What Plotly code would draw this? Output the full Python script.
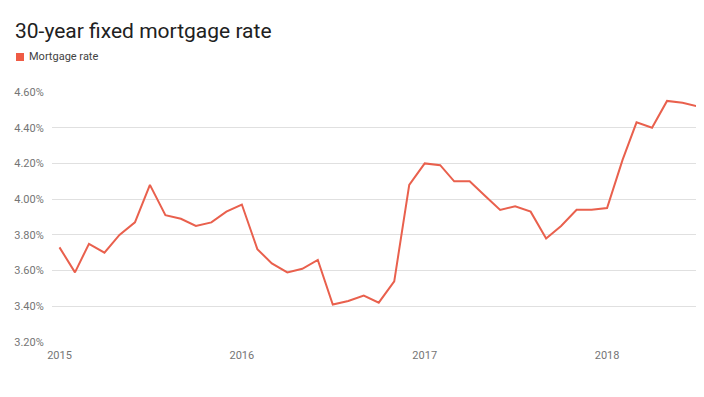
import plotly.graph_objects as go
import pandas as pd

dates = pd.date_range("2015-01-01", periods=43, freq="MS")
rates = [3.73, 3.59, 3.75, 3.70, 3.80, 3.87, 4.08, 3.91, 3.89, 3.85, 3.87, 3.93,
         3.97, 3.72, 3.64, 3.59, 3.61, 3.66, 3.41, 3.43, 3.46, 3.42, 3.54, 4.08,
         4.20, 4.19, 4.10, 4.10, 4.02, 3.94, 3.96, 3.93, 3.78, 3.85, 3.94, 3.94,
         3.95, 4.22, 4.43, 4.40, 4.55, 4.54, 4.52]
y_ticks = [3.2, 3.4, 3.6, 3.8, 4.0, 4.2, 4.4, 4.6]
y_labels = ["3.20%", "3.40%", "3.60%", "3.80%", "4.00%", "4.20%", "4.40%", "4.60%"]
x_ticks = ["2015-01-01", "2016-01-01", "2017-01-01", "2018-01-01"]
x_labels = ["2015", "2016", "2017", "2018"]
series_name = "Mortgage rate"
title = "30-year fixed mortgage rate"

color = "#E9604D"
legend_color = "#EF5B45"

# page body adds an 8px offset; figure is sized to fill the rest of the window
W, H = 696, 389

fig = go.Figure()
fig.add_trace(go.Scatter(x=dates, y=rates, mode="lines", name=series_name,
                         line=dict(color=color, width=2), showlegend=False,
                         hoverinfo="x+y"))

# legend key (square swatch + label) placed like the reference
fig.add_shape(type="rect", xref="paper", yref="paper",
              x0=(8 - 44) / (W - 44), x1=(16 - 44) / (W - 44),
              y0=1 + (84 - 53) / 250, y1=1 + (84 - 45) / 250,
              fillcolor=legend_color, line=dict(width=0))
fig.add_annotation(text=series_name, xref="paper", yref="paper",
                   x=(19 - 44) / (W - 44), xanchor="left",
                   y=1 + (84 - 49) / 250, yanchor="middle", showarrow=False,
                   font=dict(size=11, color="#424242", family="Roboto, Arial, sans-serif"))

fig.update_layout(
    width=W, height=H,
    margin=dict(l=44, r=0, t=84, b=55, autoexpand=False),
    paper_bgcolor="white", plot_bgcolor="white",
    font=dict(family="Roboto, Arial, sans-serif", color="#757575", size=11),
    title=dict(text=title, x=7/W, xref="container", xanchor="left",
               y=1 - 23/H, yref="container", yanchor="middle",
               font=dict(size=21, color="#212121", family="Roboto, Arial, sans-serif")),
    showlegend=False,
    xaxis=dict(type="date", range=["2014-12-17", "2018-07-14"],
               tickvals=x_ticks, ticktext=x_labels, showgrid=False,
               zeroline=False, showline=False, ticks="outside", ticklen=3,
               tickcolor="rgba(0,0,0,0)", tickfont=dict(size=11, color="#757575")),
    yaxis=dict(range=[3.2, 4.6], tickvals=y_ticks, ticktext=y_labels,
               showgrid=True, gridcolor="#E0E0E0", gridwidth=1, zeroline=False,
               showline=False, ticks="outside", ticklen=5, tickcolor="rgba(0,0,0,0)",
               tickfont=dict(size=11, color="#757575")),
)

fig.write_html("out.html")
